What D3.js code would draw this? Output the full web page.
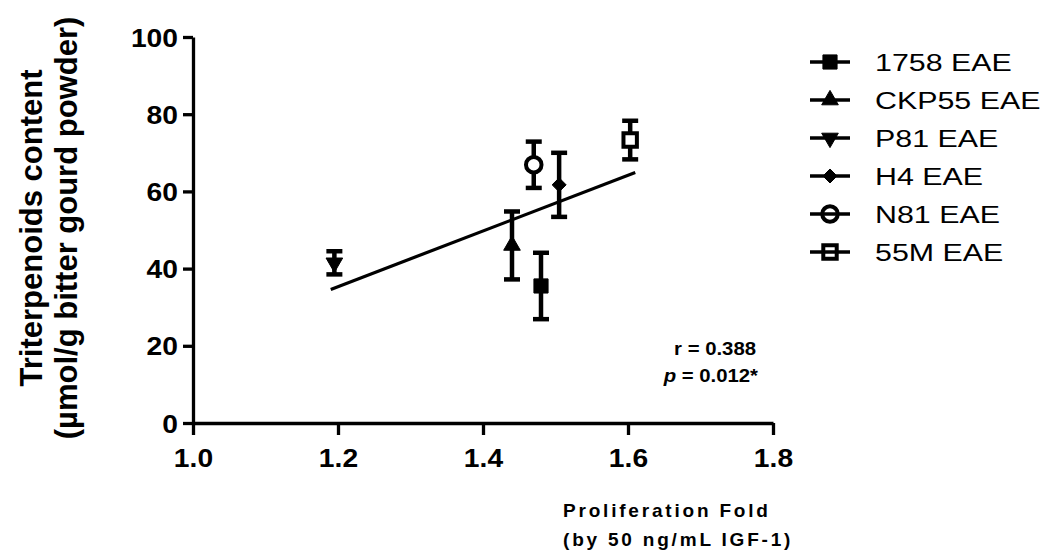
<!DOCTYPE html>
<html>
<head>
<meta charset="utf-8">
<script src="https://cdn.jsdelivr.net/npm/d3@7"></script>
<style>
  html, body { margin: 0; padding: 0; background: #fff; }
  svg { display: block; font-family: "Liberation Sans", Arial, sans-serif; }
</style>
</head>
<body>
<svg id="chart" width="1050" height="553"></svg>
<script>
// Extract samples: proliferation fold vs. triterpenoid content (mean ± SEM)
const samples   = ["1758 EAE", "CKP55 EAE", "P81 EAE", "H4 EAE", "N81 EAE", "55M EAE"];
const foldValues = [1.48, 1.44, 1.195, 1.505, 1.47, 1.603];
const contentMeans = [35.5, 46.0, 41.5, 61.7, 66.9, 73.3];
const contentErrs  = [8.6, 8.8, 3.0, 8.3, 6.0, 5.0];
const markerKinds  = ["square", "triangle", "triangleDown", "diamond", "circleOpen", "squareOpen"];

// Linear fit drawn across the sampled fold range
const fitFold    = [1.19, 1.61];
const fitContent = [34.6, 64.9];

const xTicks = [1.0, 1.2, 1.4, 1.6, 1.8];
const yTicks = [0, 20, 40, 60, 80, 100];
const statLines = ["r = 0.388", "p = 0.012*"];

const svg = d3.select("#chart");
const x = d3.scaleLinear().domain([1.0, 1.8]).range([193, 773]);
const y = d3.scaleLinear().domain([0, 100]).range([423, 37]);

const SX = 1.13; // horizontal text stretch

function symbolPath(kind, size) {
  const map = {
    square: d3.symbolSquare, squareOpen: d3.symbolSquare,
    triangle: d3.symbolTriangle, triangleDown: d3.symbolTriangle,
    diamond: d3.symbolDiamond2, circleOpen: d3.symbolCircle
  };
  return d3.symbol().type(map[kind]).size(size)();
}
const markerSize = { square: 200, squareOpen: 180, triangle: 120, triangleDown: 120, diamond: 125, circleOpen: 190 };

function drawMarker(g, kind, cx, cy, fillOpen) {
  const open = kind === "circleOpen" || kind === "squareOpen";
  const rot = kind === "triangleDown" ? " rotate(180)" : "";
  g.append("path")
    .attr("d", symbolPath(kind, markerSize[kind]))
    .attr("transform", `translate(${cx},${cy})${rot}`)
    .attr("fill", open ? fillOpen : "#000")
    .attr("stroke", "#000")
    .attr("stroke-width", open ? 4 : 1);
}

// Axes
const yAxis = d3.axisLeft(y).tickValues(yTicks).tickSize(10).tickSizeOuter(0).tickPadding(5);
const xAxis = d3.axisBottom(x).tickValues(xTicks).tickSize(12).tickSizeOuter(0).tickPadding(8)
  .tickFormat(d3.format(".1f"));

const gy = svg.append("g").attr("transform", `translate(${x(1.0)},0)`).call(yAxis);
const gx = svg.append("g").attr("transform", `translate(0,${y(0)})`).call(xAxis);

[gx, gy].forEach(g => {
  g.select(".domain").attr("stroke", "#000").attr("stroke-width", 3.3);
  g.selectAll(".tick line").attr("stroke", "#000").attr("stroke-width", 3.3);
  g.selectAll(".tick text")
    .attr("fill", "#000")
    .attr("font-size", 25)
    .attr("font-weight", "bold")
    .attr("font-family", "'Liberation Sans', Arial, sans-serif");
});
gy.selectAll(".tick text").attr("x", -15 / SX).attr("dy", "0.36em").attr("transform", `scale(${SX},1)`);
gx.selectAll(".tick text").attr("dy", "0.95em").attr("transform", `scale(${SX},1)`);

// Fit line
svg.append("line")
  .attr("x1", x(fitFold[0])).attr("y1", y(fitContent[0]))
  .attr("x2", x(fitFold[1])).attr("y2", y(fitContent[1]))
  .attr("stroke", "#000").attr("stroke-width", 3.2);

// Error bars and markers
const pts = svg.append("g");
samples.forEach((name, i) => {
  const cx = x(foldValues[i]);
  const top = y(contentMeans[i] + contentErrs[i]);
  const bot = y(contentMeans[i] - contentErrs[i]);
  pts.append("line").attr("x1", cx).attr("x2", cx).attr("y1", top).attr("y2", bot)
    .attr("stroke", "#000").attr("stroke-width", 4.5);
  [top, bot].forEach(yy => {
    pts.append("line").attr("x1", cx - 8).attr("x2", cx + 8).attr("y1", yy).attr("y2", yy)
      .attr("stroke", "#000").attr("stroke-width", 4.5);
  });
  drawMarker(pts, markerKinds[i], cx, y(contentMeans[i]), "#fff");
});

// Legend
const lg = svg.append("g");
samples.forEach((name, i) => {
  const cy = 62 + i * 38;
  const row = lg.append("g");
  drawMarker(row, markerKinds[i], 830, cy, "none");
  row.append("line").attr("x1", 810).attr("x2", 850).attr("y1", cy).attr("y2", cy)
    .attr("stroke", "#000").attr("stroke-width", 3.5);
  row.append("text")
    .attr("transform", `translate(875,${cy}) scale(1.24,1)`)
    .attr("dy", "0.36em")
    .attr("font-size", 24.5)
    .attr("fill", "#000")
    .text(name);
});

// Statistics
const st = svg.append("g").attr("font-weight", "bold").attr("font-size", 18).attr("fill", "#000");
st.append("text").attr("transform", `translate(756,355) scale(${SX},1)`).attr("text-anchor", "end")
  .text(statLines[0]);
const pText = st.append("text").attr("transform", `translate(758,382) scale(${SX},1)`).attr("text-anchor", "end");
pText.append("tspan").attr("font-style", "italic").text(statLines[1].slice(0, 1));
pText.append("tspan").text(statLines[1].slice(1));

// Axis titles
const yTitle = svg.append("text")
  .attr("transform", "translate(0,228) rotate(-90)")
  .attr("text-anchor", "middle")
  .attr("font-weight", "bold")
  .attr("font-size", 31)
  .attr("fill", "#000");
yTitle.append("tspan").attr("x", 0).attr("y", 42).text("Triterpenoids content");
yTitle.append("tspan").attr("x", 0).attr("y", 77).text("(\u00b5mol/g bitter gourd powder)");

const xTitle = svg.append("g").attr("font-weight", "bold").attr("font-size", 19)
  .attr("letter-spacing", 2.8).attr("fill", "#000");
xTitle.append("text").attr("x", 563).attr("y", 517).text("Proliferation Fold");
xTitle.append("text").attr("x", 563).attr("y", 546).text("(by 50 ng/mL IGF-1)");
</script>
</body>
</html>
